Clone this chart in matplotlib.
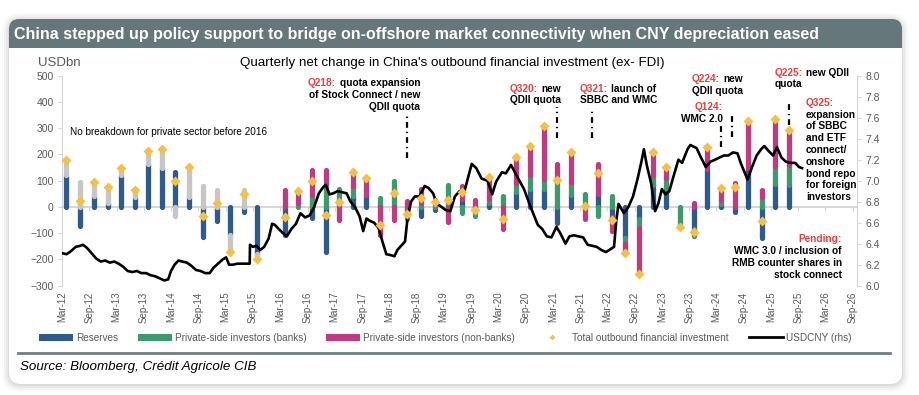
import numpy as np
import pandas as pd
import matplotlib
matplotlib.use("Agg")
import matplotlib.pyplot as plt
import matplotlib.dates as mdates
from matplotlib.patches import FancyBboxPatch, Rectangle, Patch
from matplotlib.lines import Line2D
from matplotlib.offsetbox import TextArea, HPacker, VPacker, AnnotationBbox
from matplotlib.transforms import IdentityTransform
from matplotlib.ticker import FormatStrFormatter

plt.rcParams['font.family'] = ['Liberation Sans', 'DejaVu Sans']

nan = np.nan
# ---------------- data ----------------
quarters = pd.period_range('2012Q1', '2025Q2', freq='Q')

reserves = [120, -72, 42, 15, 122, 37, 162, 147, 133, 39, -113, -52, -105, -18, -180, nan,
            -105, 0, -43, -170, 0, 42, 45, 10, 0, -10, -35, -10, 0, 30, -5, 15, 0, 58, 70, 70,
            -60, 45, 0, 50, -37, -120, -45, 85, 71, 0, -85, 145, 10, -18, 150, -119, 87, 84]
private_unsplit = [60, 95, 52, 60, 25, 28, 53, 73, -34, 114, 80, 66, -65, 66, -20] + [nan] * 39
banks = [nan] * 16 + [0, 15, 44, 89, 70, 36, 0, 25, 100, -37, 15, 10, 84, -22, -30, 15, 40, 32,
                      50, 35, 115, 50, 50, -35, 42, -20, -35, 35, 38, -75, -25, 0, 15, 0, 0, 38, 68, 76]
nonbanks = [nan] * 16 + [65, 47, 97, 51, -50, 58, 67, -105, -48, 22, 55, 18, -56, 50, 25, 83, -85,
                         101, 112, 203, 48, 113, -45, 115, -55, -35, -175, 88, 44, 0, 15, 82, 46, 93,
                         177, 28, 181, 133]
total = [180, 23, 94, 75, 147, 65, 215, 220, 99, 153, -33, 14, -170, 48, -200, nan,
         -40, 62, 98, -30, 20, 134, 110, -70, 52, -25, 35, 18, 28, 58, -10, 113, -45, 191, 232, 308,
         103, 208, 5, 130, -50, -175, -255, 208, 153, -75, -95, 227, 71, 75, 327, -53, 336, 293]

fx_dates = ['2012-03-01', '2012-04-01', '2012-05-01', '2012-06-01', '2012-07-01', '2012-07-20',
            '2012-08-15', '2012-09-15', '2012-10-15', '2012-11-15', '2012-12-15', '2013-01-15',
            '2013-02-15', '2013-03-15', '2013-04-15', '2013-05-15', '2013-06-15', '2013-07-15',
            '2013-08-15', '2013-09-15', '2013-10-15', '2013-11-15', '2013-12-15', '2014-01-15',
            '2014-02-10', '2014-03-01', '2014-03-25', '2014-04-20', '2014-05-15', '2014-06-15',
            '2014-07-15', '2014-08-15', '2014-09-15', '2014-10-15', '2014-11-15', '2014-12-10',
            '2015-01-10', '2015-02-10', '2015-03-05', '2015-03-25', '2015-04-20', '2015-05-20',
            '2015-06-20', '2015-07-20', '2015-08-10', '2015-08-12', '2015-09-01', '2015-09-25',
            '2015-10-20', '2015-11-15', '2015-12-15', '2016-01-07', '2016-01-25', '2016-02-20',
            '2016-03-20', '2016-04-15', '2016-05-15', '2016-06-15', '2016-07-15', '2016-08-15',
            '2016-09-15', '2016-10-15', '2016-11-15', '2016-12-15', '2017-01-01', '2017-01-25',
            '2017-02-20', '2017-03-20', '2017-04-20', '2017-05-20', '2017-06-15', '2017-07-15',
            '2017-08-15', '2017-09-08', '2017-09-30', '2017-10-20', '2017-11-20', '2017-12-20',
            '2018-01-15', '2018-02-10', '2018-03-15', '2018-04-05', '2018-04-25', '2018-05-20',
            '2018-06-15', '2018-07-01', '2018-07-25', '2018-08-20', '2018-09-20', '2018-10-25',
            '2018-11-20', '2018-12-20', '2019-01-15', '2019-02-15', '2019-03-15', '2019-04-15',
            '2019-05-15', '2019-06-15', '2019-07-15', '2019-08-15', '2019-09-05', '2019-10-05',
            '2019-11-10', '2019-12-20', '2020-01-20', '2020-02-15', '2020-03-25', '2020-04-20',
            '2020-05-25', '2020-06-20', '2020-07-20', '2020-08-20', '2020-09-20', '2020-10-20',
            '2020-11-20', '2020-12-20', '2021-01-20', '2021-02-20', '2021-03-25', '2021-04-20',
            '2021-05-25', '2021-06-20', '2021-07-20', '2021-08-20', '2021-09-20', '2021-10-20',
            '2021-11-20', '2021-12-20', '2022-01-20', '2022-02-20', '2022-03-25', '2022-04-15',
            '2022-04-30', '2022-05-15', '2022-06-20', '2022-07-20', '2022-08-20', '2022-09-20',
            '2022-10-15', '2022-11-01', '2022-11-20', '2022-12-20', '2023-01-15', '2023-02-05',
            '2023-03-01', '2023-03-25', '2023-04-20', '2023-05-20', '2023-06-20', '2023-07-15',
            '2023-08-20', '2023-09-08', '2023-10-20', '2023-11-15', '2023-12-20', '2024-01-20',
            '2024-02-20', '2024-03-20', '2024-04-20', '2024-05-20', '2024-06-20', '2024-07-20',
            '2024-08-10', '2024-09-25', '2024-10-25', '2024-11-25', '2024-12-25', '2025-01-15',
            '2025-02-15', '2025-03-15', '2025-04-10', '2025-05-10', '2025-06-10', '2025-07-10',
            '2025-08-10', '2025-09-05', '2025-09-25']
fx_values = [6.31, 6.30, 6.33, 6.37, 6.38, 6.39, 6.36, 6.31, 6.26, 6.23, 6.24, 6.22,
             6.23, 6.21, 6.18, 6.14, 6.13, 6.14, 6.12, 6.12, 6.10, 6.09, 6.07, 6.05,
             6.06, 6.14, 6.20, 6.24, 6.23, 6.22, 6.19, 6.15, 6.14, 6.12, 6.12, 6.17,
             6.21, 6.25, 6.27, 6.20, 6.20, 6.21, 6.21, 6.21, 6.21, 6.39, 6.37, 6.38,
             6.34, 6.37, 6.45, 6.59, 6.58, 6.54, 6.50, 6.47, 6.54, 6.59, 6.69, 6.65,
             6.67, 6.75, 6.88, 6.94, 6.96, 6.87, 6.88, 6.90, 6.89, 6.88, 6.80, 6.75,
             6.66, 6.52, 6.64, 6.62, 6.60, 6.55, 6.42, 6.30, 6.29, 6.28, 6.34, 6.38,
             6.42, 6.63, 6.80, 6.85, 6.85, 6.95, 6.93, 6.88, 6.78, 6.75, 6.72, 6.71,
             6.85, 6.90, 6.88, 7.05, 7.16, 7.12, 7.02, 7.00, 6.87, 6.99, 7.08, 7.07,
             7.15, 7.08, 7.00, 6.92, 6.80, 6.69, 6.58, 6.54, 6.47, 6.46, 6.56, 6.50,
             6.40, 6.47, 6.48, 6.47, 6.46, 6.39, 6.38, 6.37, 6.34, 6.32, 6.35, 6.37,
             6.62, 6.78, 6.69, 6.75, 6.85, 7.02, 7.18, 7.30, 7.15, 6.97, 6.71, 6.78,
             6.92, 6.87, 6.90, 7.05, 7.20, 7.17, 7.30, 7.34, 7.31, 7.23, 7.13, 7.18,
             7.20, 7.22, 7.24, 7.24, 7.27, 7.26, 7.17, 7.01, 7.13, 7.24, 7.30, 7.33,
             7.28, 7.24, 7.32, 7.22, 7.18, 7.17, 7.17, 7.13, 7.12]

xtick_dates = pd.date_range('2012-03-01', '2026-09-01', freq='6MS')

# ---------------- style ----------------
C_RES = '#2f5a8e'
C_BANK = '#3d9a6c'
C_NONB = '#bf3a80'
C_GREY = '#c6c6c6'
C_TOT = '#f4c144'
C_RED = '#e8413c'
TXT = '#595959'
AXC = '#d6d6d6'

W, H = 920, 395
fig = plt.figure(figsize=(W / 100, H / 100), dpi=100)
fig.patch.set_facecolor('white')
ID = IdentityTransform()


def fy(y):
    return H - y


# card with soft shadow
for k, a in [(7, 0.02), (5, 0.03), (3, 0.04), (1, 0.05)]:
    fig.add_artist(FancyBboxPatch((9 - k, fy(384) - k - 1), 893 + 2 * k, 365 + 2 * k,
                                  boxstyle=f"round,pad=0,rounding_size={12 + k}",
                                  transform=ID, facecolor='black', edgecolor='none',
                                  alpha=a, zorder=-5))
fig.add_artist(FancyBboxPatch((9, fy(384)), 893, 365, boxstyle="round,pad=0,rounding_size=12",
                              transform=ID, facecolor='white', edgecolor='none', zorder=-4))
fig.add_artist(FancyBboxPatch((9, fy(48)), 893, 29, boxstyle="round,pad=0,rounding_size=10",
                              transform=ID, facecolor='#65777b', edgecolor='none', zorder=-3))
fig.add_artist(Rectangle((9, fy(48)), 893, 14, transform=ID, facecolor='#65777b',
                         edgecolor='none', zorder=-3))
fig.text(14 / W, 1 - 34 / H,
         'China stepped up policy support to bridge on-offshore market connectivity when CNY depreciation eased',
         color='white', fontweight='bold', fontsize=11.5, va='center', ha='left')

# ---------------- axes ----------------
ax = fig.add_axes([62 / W, 1 - 285.7 / H, (857 - 62) / W, (285.7 - 75.7) / H])
ax.patch.set_alpha(0)
ax2 = ax.twinx()
ax2.set_ylim(6.0, 8.0)

qdates = quarters.to_timestamp(how='end').normalize()

# stacked, round-capped bars
segs = {C_RES: [], C_GREY: [], C_BANK: [], C_NONB: []}
for i, d in enumerate(qdates):
    pos, neg = 0.0, 0.0
    for val, col in [(reserves[i], C_RES), (private_unsplit[i], C_GREY),
                     (banks[i], C_BANK), (nonbanks[i], C_NONB)]:
        if val is None or np.isnan(val) or val == 0:
            continue
        if val > 0:
            segs[col].append((d, pos, pos + val))
            pos += val
        else:
            segs[col].append((d, neg, neg + val))
            neg += val
for col in [C_RES, C_GREY, C_BANK, C_NONB]:
    if segs[col]:
        xs = [s[0] for s in segs[col]]
        ax.vlines(xs, [s[1] for s in segs[col]], [s[2] for s in segs[col]],
                  colors=col, linewidth=3.8, capstyle='round', zorder=3)

ax.plot(pd.to_datetime(fx_dates), fx_values, color='black', lw=1.9, zorder=4,
        transform=ax2.transData, solid_joinstyle='round')
ax.plot(qdates, total, 'D', ms=5.5, color=C_TOT, mec='none', zorder=5)

ax.set_ylim(-300, 500)
ax.set_yticks(range(-300, 501, 100))
ax.set_xlim(pd.Timestamp('2012-03-01'), pd.Timestamp('2026-09-28'))
ax.set_xticks(xtick_dates)
ax.xaxis.set_major_formatter(mdates.DateFormatter('%b-%y'))
ax.tick_params(axis='x', length=0, labelrotation=90, labelsize=7, labelcolor=TXT, pad=4)
ax.tick_params(axis='y', length=3, color=AXC, labelsize=7.5, labelcolor=TXT, pad=3)
for s in ['top', 'bottom', 'right']:
    ax.spines[s].set_visible(False)
ax.spines['left'].set_color(AXC)

ax2.set_yticks(np.arange(6.0, 8.01, 0.2))
ax2.yaxis.set_major_formatter(FormatStrFormatter('%.1f'))
ax2.tick_params(axis='y', length=3, color=AXC, labelsize=7.5, labelcolor=TXT, pad=3)
for s in ['top', 'bottom', 'left']:
    ax2.spines[s].set_visible(False)
ax2.spines['right'].set_color(AXC)

# zero axis with small ticks
zx = ax.secondary_xaxis(0.375)
zx.set_xticks(xtick_dates)
zx.set_xticklabels([])
zx.tick_params(axis='x', direction='out', length=3, color=AXC)
zx.spines['bottom'].set_color('#cfcfcf')
zx.spines['bottom'].set_linewidth(1.2)
zx.set_zorder(1)

fig.text(38 / W, 1 - 63.5 / H, 'USDbn', fontsize=9.5, color=TXT, va='center', ha='left')
fig.text(452 / W, 1 - 63 / H,
         "Quarterly net change in China's outbound financial investment (ex- FDI)",
         fontsize=9.6, color='black', va='center', ha='center')
fig.text(70.5 / W, 1 - 131.7 / H, 'No breakdown for private sector before 2016',
         fontsize=7.2, color='black', va='center', ha='left')

# ---------------- annotations ----------------
FS = 7.3


def note(lines, x, ytop, align):
    rows = []
    for parts in lines:
        tas = [TextArea(t, textprops=dict(color=c, fontweight='bold', fontsize=FS))
               for t, c in parts]
        rows.append(tas[0] if len(tas) == 1 else HPacker(children=tas, sep=2.5, pad=0, align='baseline'))
    vp = VPacker(children=rows, sep=1.3, pad=0, align=align)
    ab = AnnotationBbox(vp, (x, fy(ytop)), xycoords='figure pixels',
                        box_alignment=(1 if align == 'right' else 0, 1),
                        frameon=False, pad=0, zorder=6)
    fig.add_artist(ab)


K = 'black'
note([[('Q218:', C_RED), ('quota expansion', K)], [('of Stock Connect / new', K)], [('QDII quota', K)]],
     420, 78, 'right')
note([[('Q320:', C_RED), ('new', K)], [('QDII quota', K)]], 561, 83.5, 'right')
note([[('Q321:', C_RED), ('launch of', K)], [('SBBC and WMC', K)]], 580, 83.5, 'left')
note([[('Q224:', C_RED), ('new', K)], [('QDII quota', K)]], 692, 74, 'left')
note([[('Q124:', C_RED)], [('WMC 2.0', K)]], 723, 102.5, 'right')
note([[('Q225:', C_RED), ('new QDII', K)], [('quota', K)]], 775, 67.5, 'left')
note([[('Q325:', C_RED)], [('expansion', K)], [('of SBBC', K)], [('and ETF', K)], [('connect/', K)],
      [('onshore', K)], [('bond repo', K)], [('for foreign', K)], [('investors', K)]],
     806, 97.8, 'left')
note([[('Pending:', C_RED)], [('WMC 3.0 / inclusion of', K)], [('RMB counter shares in', K)],
      [('stock connect', K)]], 842, 234.5, 'right')

ann_dates = ['2018-06-30', '2021-04-01', '2021-11-15', '2024-03-31', '2024-06-10', '2025-06-30']
ann_lo = [186, 262, 262, 228, 266, 312]
ann_hi = [346, 380, 376, 312, 346, 400]
for d, lo, hi in zip(ann_dates, ann_lo, ann_hi):
    ax.plot([pd.Timestamp(d)] * 2, [lo, hi], color='black', lw=1.6,
            ls=(0, (2.6, 1.8, 0.6, 1.8)), zorder=6, solid_capstyle='butt', dash_capstyle='butt')

# ---------------- legend ----------------
handles = [Patch(facecolor=C_RES, edgecolor='none'), Patch(facecolor=C_BANK, edgecolor='none'),
           Patch(facecolor=C_NONB, edgecolor='none'),
           Line2D([], [], marker='D', ls='', ms=3, color=C_TOT, mec='none'),
           Line2D([], [], color='black', lw=2)]
labels = ['Reserves', 'Private-side investors (banks)', 'Private-side investors (non-banks)',
          'Total outbound financial investment', 'USDCNY (rhs)']
fig.legend(handles, labels, loc='center', bbox_to_anchor=(445 / W, 1 - 338 / H), ncol=5,
           frameon=False, fontsize=7.2, handlelength=3.4, handleheight=0.8, columnspacing=2.0,
           handletextpad=0.3, labelcolor=TXT, borderpad=0)

fig.add_artist(Line2D([18, 890], [fy(353), fy(353)], transform=ID, color='#6f7f85', lw=2))
fig.text(20 / W, 1 - 367 / H, 'Source: Bloomberg, Crédit Agricole CIB', style='italic',
         fontsize=9.6, color='black', va='center', ha='left')

fig.savefig('out.png', dpi=100, facecolor='white')
